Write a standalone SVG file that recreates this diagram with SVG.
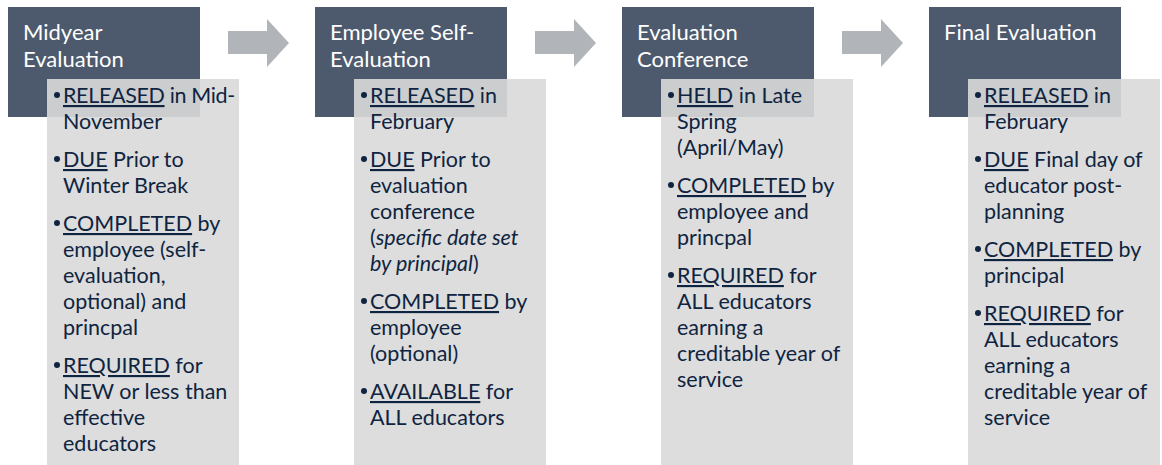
<svg xmlns="http://www.w3.org/2000/svg" width="1162" height="465" viewBox="0 0 1162 465">
<defs>
<style>
.hd{fill:#4d5a6d}
.bd{fill:#d9d9d9;fill-opacity:0.9}
.ti{font-family:Lato,"Liberation Sans",sans-serif;font-size:22px;fill:#ffffff}
.tx{font-family:Lato,"Liberation Sans",sans-serif;font-size:21.5px;fill:#0f2440}
.u{text-decoration:underline}
.it{font-style:italic}
.tight{letter-spacing:-0.35px}
.dot{fill:#0f2440}
.ar{fill:#b1b4b9}
</style>
<path id="arrow" d="M0,12 H39 V0 L61,24 L39,48 V35 H0 Z"/>
</defs>
<g id="connectors">
<use href="#arrow" class="ar" x="228" y="19"/>
<use href="#arrow" class="ar" x="535" y="19"/>
<use href="#arrow" class="ar" x="842" y="19"/>
</g>
<g id="node-midyear">
<rect class="hd" x="8" y="7" width="192" height="110"/>
<text class="ti" x="23" y="40">Midyear</text>
<text class="ti" x="23" y="67">Evaluation</text>
<rect class="bd" x="47" y="79" width="192" height="386"/>
<circle class="dot" cx="57" cy="95" r="3"/>
<text class="tx tight" x="63" y="103"><tspan class="u">RELEASED</tspan> in Mid-</text>
<text class="tx" x="63" y="129">November</text>
<circle class="dot" cx="57" cy="159" r="3"/>
<text class="tx" x="63" y="167"><tspan class="u">DUE</tspan> Prior to</text>
<text class="tx" x="63" y="193">Winter Break</text>
<circle class="dot" cx="57" cy="223" r="3"/>
<text class="tx" x="63" y="231"><tspan class="u">COMPLETED</tspan> by</text>
<text class="tx" x="63" y="257">employee (self-</text>
<text class="tx" x="63" y="283">evaluation,</text>
<text class="tx" x="63" y="309">optional) and</text>
<text class="tx" x="63" y="335">princpal</text>
<circle class="dot" cx="57" cy="365" r="3"/>
<text class="tx" x="63" y="373"><tspan class="u">REQUIRED</tspan> for</text>
<text class="tx" x="63" y="399">NEW or less than</text>
<text class="tx" x="63" y="425">effective</text>
<text class="tx" x="63" y="451">educators</text>
</g>
<g id="node-self">
<rect class="hd" x="315" y="7" width="192" height="110"/>
<text class="ti" x="330" y="40">Employee Self-</text>
<text class="ti" x="330" y="67">Evaluation</text>
<rect class="bd" x="354" y="79" width="192" height="386"/>
<circle class="dot" cx="364" cy="95" r="3"/>
<text class="tx" x="370" y="103"><tspan class="u">RELEASED</tspan> in</text>
<text class="tx" x="370" y="129">February</text>
<circle class="dot" cx="364" cy="159" r="3"/>
<text class="tx" x="370" y="167"><tspan class="u">DUE</tspan> Prior to</text>
<text class="tx" x="370" y="193">evaluation</text>
<text class="tx" x="370" y="219">conference</text>
<text class="tx" x="370" y="245">(<tspan class="it">specific date set</tspan></text>
<text class="tx" x="370" y="271"><tspan class="it">by principal</tspan>)</text>
<circle class="dot" cx="364" cy="301" r="3"/>
<text class="tx" x="370" y="309"><tspan class="u">COMPLETED</tspan> by</text>
<text class="tx" x="370" y="335">employee</text>
<text class="tx" x="370" y="361">(optional)</text>
<circle class="dot" cx="364" cy="391" r="3"/>
<text class="tx" x="370" y="399"><tspan class="u">AVAILABLE</tspan> for</text>
<text class="tx" x="370" y="425">ALL educators</text>
</g>
<g id="node-conference">
<rect class="hd" x="622" y="7" width="192" height="110"/>
<text class="ti" x="637" y="40">Evaluation</text>
<text class="ti" x="637" y="67">Conference</text>
<rect class="bd" x="661" y="79" width="192" height="386"/>
<circle class="dot" cx="671" cy="95" r="3"/>
<text class="tx" x="677" y="103"><tspan class="u">HELD</tspan> in Late</text>
<text class="tx" x="677" y="129">Spring</text>
<text class="tx" x="677" y="155">(April/May)</text>
<circle class="dot" cx="671" cy="185" r="3"/>
<text class="tx" x="677" y="193"><tspan class="u">COMPLETED</tspan> by</text>
<text class="tx" x="677" y="219">employee and</text>
<text class="tx" x="677" y="245">princpal</text>
<circle class="dot" cx="671" cy="275" r="3"/>
<text class="tx" x="677" y="283"><tspan class="u">REQUIRED</tspan> for</text>
<text class="tx" x="677" y="309">ALL educators</text>
<text class="tx" x="677" y="335">earning a</text>
<text class="tx" x="677" y="361">creditable year of</text>
<text class="tx" x="677" y="387">service</text>
</g>
<g id="node-final">
<rect class="hd" x="929" y="7" width="192" height="110"/>
<text class="ti" x="944" y="40">Final Evaluation</text>
<rect class="bd" x="968" y="79" width="192" height="386"/>
<circle class="dot" cx="978" cy="95" r="3"/>
<text class="tx" x="984" y="103"><tspan class="u">RELEASED</tspan> in</text>
<text class="tx" x="984" y="129">February</text>
<circle class="dot" cx="978" cy="159" r="3"/>
<text class="tx" x="984" y="167"><tspan class="u">DUE</tspan> Final day of</text>
<text class="tx" x="984" y="193">educator post-</text>
<text class="tx" x="984" y="219">planning</text>
<circle class="dot" cx="978" cy="249" r="3"/>
<text class="tx" x="984" y="257"><tspan class="u">COMPLETED</tspan> by</text>
<text class="tx" x="984" y="283">principal</text>
<circle class="dot" cx="978" cy="313" r="3"/>
<text class="tx" x="984" y="321"><tspan class="u">REQUIRED</tspan> for</text>
<text class="tx" x="984" y="347">ALL educators</text>
<text class="tx" x="984" y="373">earning a</text>
<text class="tx" x="984" y="399">creditable year of</text>
<text class="tx" x="984" y="425">service</text>
</g>
</svg>
